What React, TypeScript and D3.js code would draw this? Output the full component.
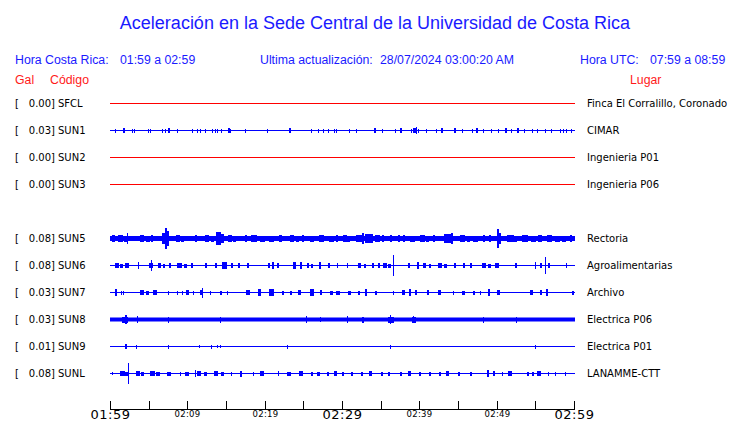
import React from "react";
import * as d3 from "d3";

const W = 740;
const H = 423;

const TITLE = "Aceleración en la Sede Central de la Universidad de Costa Rica";
const HDR_CR_LABEL = "Hora Costa Rica:";
const HDR_CR_RANGE = "01:59 a 02:59";
const HDR_UPD_LABEL = "Ultima actualización:";
const HDR_UPD_VALUE = "28/07/2024 03:00:20 AM";
const HDR_UTC_LABEL = "Hora UTC:";
const HDR_UTC_RANGE = "07:59 a 08:59";

const codes = ["SFCL", "SUN1", "SUN2", "SUN3", "SUN5", "SUN6", "SUN7", "SUN8", "SUN9", "SUNL"];
const slots = [0, 1, 2, 3, 5, 6, 7, 8, 9, 10];
const gals = [0.0, 0.03, 0.0, 0.0, 0.08, 0.08, 0.03, 0.03, 0.01, 0.08];
const places = [
  "Finca El Corralillo, Coronado",
  "CIMAR",
  "Ingenieria P01",
  "Ingenieria P06",
  "Rectoria",
  "Agroalimentarias",
  "Archivo",
  "Electrica P06",
  "Electrica P01",
  "LANAMME-CTT",
];
const online = [false, true, false, false, true, true, true, true, true, true];
const baseNoise = [0, 0, 0, 0, 2, 0, 0, 1.5, 0, 0];

// events: [minute after 01:59, half amplitude, duration in minutes]
type Ev = [number, number, number];
const evSUN1: Ev[] = [
  [0.65, 1.5, 0.1], [1.68, 2, 0.25], [2.84, 1.5, 0.1], [3.1, 1.5, 0.1], [4.91, 1.5, 0.1], [5.17, 1.5, 0.1],
  [6.72, 1.5, 0.1], [7.11, 1.5, 0.1], [7.5, 2, 0.3], [8.66, 1.5, 0.1], [10.6, 1.5, 0.1], [11.25, 1.5, 0.1],
  [11.64, 1.5, 0.1], [12.28, 1.5, 0.1], [13.19, 1.5, 0.1], [13.58, 1.5, 0.1], [13.84, 1.5, 0.1], [14.35, 1.5, 0.1],
  [15.26, 2, 0.2], [15.52, 1.5, 0.1], [17.46, 1.5, 0.1], [20.3, 1.5, 0.1], [23.14, 2, 0.2], [25.99, 1.5, 0.1],
  [26.89, 1.5, 0.1], [27.54, 1.5, 0.1], [28.19, 1.5, 0.1], [28.96, 1.5, 0.1], [29.22, 1.5, 0.1], [30.9, 1.5, 0.1],
  [31.81, 1.5, 0.1], [34.14, 2, 0.2], [35.17, 1.5, 0.1], [36.85, 1.5, 0.1], [37.5, 2, 0.2], [38.92, 1.5, 0.1],
  [39.18, 2, 0.4], [39.57, 3, 0.1], [39.83, 1.5, 0.1], [40.86, 1.5, 0.1], [42.15, 1.5, 0.1], [42.8, 2, 0.2],
  [44.48, 2, 0.2], [45.52, 1.5, 0.1], [46.81, 1.5, 0.1], [47.33, 2, 0.2], [48.23, 1.5, 0.1], [49.27, 1.5, 0.1],
  [50.17, 1.5, 0.1], [51.07, 2, 0.2], [51.85, 1.5, 0.1], [52.63, 2, 0.2], [53.53, 1.5, 0.1], [54.57, 1.5, 0.1],
  [55.21, 1.5, 0.1], [56.25, 1.5, 0.1], [57.02, 1.5, 0.1], [58.19, 1.5, 0.1], [58.58, 1.5, 0.1], [58.97, 1.5, 0.1],
  [59.61, 1.5, 0.1],
];
const evSUN5: Ev[] = [
  [0.3, 3, 0.4], [1.0, 3, 0.6], [1.8, 2.5, 0.5], [2.2, 5, 0.15], [3.9, 3, 0.5], [4.6, 2.5, 0.5], [5.3, 3, 0.3],
  [6.7, 5, 0.9], [7.1, 10, 0.2], [7.4, 7, 0.3], [8.5, 3, 0.5], [9.2, 2.5, 0.4], [11.0, 3, 0.3], [12.3, 3, 0.5],
  [13.0, 2.5, 0.4], [13.7, 6, 0.6], [14.0, 4, 0.8], [15.2, 3, 0.5], [15.9, 2.5, 0.4], [17.5, 3, 0.3], [18.2, 3, 0.8],
  [19.4, 2.5, 0.6], [20.5, 2.5, 0.6], [21.8, 3, 0.4], [23.3, 3, 0.5], [24.0, 2.5, 0.4], [24.8, 3, 0.2],
  [25.8, 2.5, 0.5], [27.0, 3, 0.6], [28.3, 2.5, 0.6], [29.2, 3, 0.3], [30.1, 3, 0.5], [30.7, 2.5, 0.4],
  [31.8, 3, 0.9], [32.6, 5, 0.2], [33.0, 4, 1.0], [34.3, 3, 0.6], [35.2, 3, 0.2], [36.2, 3, 0.2], [37.2, 3, 0.2],
  [37.9, 3, 0.2], [38.8, 2.5, 0.6], [40.1, 3, 0.6], [40.9, 2.5, 0.4], [41.8, 3, 0.3], [43.2, 4, 0.9], [44.1, 5, 0.2],
  [45.3, 3, 0.6], [46.1, 2.5, 0.4], [47.0, 2.5, 0.6], [48.2, 3, 0.2], [49.0, 3, 0.3], [50.0, 9, 0.2], [50.3, 5, 0.3],
  [51.4, 3, 0.9], [52.2, 2.5, 0.4], [53.3, 3, 0.8], [54.4, 2.5, 0.6], [55.3, 3, 0.5], [56.5, 3, 0.7],
  [57.6, 2.5, 0.6], [58.5, 2.5, 0.5], [59.5, 3, 0.2],
];
const evSUN6: Ev[] = [
  [0.6, 2, 0.5], [1.3, 1.5, 0.4], [2.0, 2, 0.5], [3.6, 3, 0.15], [5.1, 2, 0.5], [5.3, 5, 0.15], [6.2, 2, 0.4],
  [6.9, 1.5, 0.3], [7.6, 2, 0.3], [8.7, 2, 0.6], [9.6, 1.5, 0.4], [10.5, 2, 0.3], [12.3, 2, 0.3], [13.6, 2, 0.3],
  [14.5, 3, 0.6], [15.6, 2, 0.3], [16.5, 2, 0.3], [17.7, 2, 0.3], [20.4, 2, 0.3], [20.9, 3, 0.2], [21.6, 2, 0.3],
  [23.7, 3, 0.4], [24.6, 3, 0.3], [25.5, 2, 0.3], [26.0, 1.5, 0.2], [27.0, 3, 0.3], [28.2, 2, 0.3], [29.4, 2, 0.15],
  [30.6, 2, 0.15], [32.1, 2, 0.4], [32.8, 1.5, 0.3], [33.9, 2, 0.2], [34.6, 2, 0.2], [35.3, 2, 0.5], [36.0, 1.5, 0.4],
  [36.6, 10, 0.15], [38.5, 2, 0.3], [39.7, 3, 0.2], [40.5, 2, 0.4], [41.2, 1.5, 0.3], [42.4, 2, 0.5], [43.2, 1.5, 0.4],
  [44.5, 2, 0.2], [45.6, 2, 0.2], [46.5, 2, 0.2], [48.1, 2, 0.5], [48.9, 1.5, 0.4], [49.8, 2, 0.5], [52.4, 2, 0.3],
  [54.9, 3, 0.15], [55.6, 2, 0.3], [56.3, 8, 0.15], [56.6, 2, 0.3], [59.0, 2, 0.15],
];
const evSUN7: Ev[] = [
  [0.65, 3, 0.3], [1.4, 1.5, 0.1], [1.7, 1.5, 0.1], [3.9, 2, 0.5], [4.7, 1.5, 0.4], [5.5, 2, 0.5], [7.5, 1.5, 0.1],
  [8.7, 1.5, 0.1], [9.3, 1.5, 0.1], [9.8, 2, 0.4], [10.7, 1.5, 0.1], [11.7, 2, 0.4], [11.9, 4.5, 0.15],
  [12.9, 1.5, 0.1], [14.2, 1.5, 0.2], [15.1, 1.5, 0.1], [17.6, 2, 0.5], [19.2, 3, 0.4], [20.6, 3, 0.6],
  [22.2, 1.5, 0.2], [23.3, 1.5, 0.2], [24.3, 2, 0.4], [25.8, 3, 0.5], [27.1, 2, 0.3], [28.4, 1.5, 0.4],
  [29.2, 1.5, 0.5], [30.8, 1.5, 0.4], [32.1, 1.5, 0.2], [33.0, 3, 0.3], [34.3, 1.5, 0.2], [36.6, 1.5, 0.1],
  [37.8, 2, 0.4], [38.6, 3, 0.2], [39.4, 2, 0.2], [41.0, 2, 0.3], [42.4, 2, 0.4], [44.4, 1.5, 0.1], [45.5, 1.5, 0.4],
  [46.9, 1.5, 0.2], [47.8, 1.5, 0.1], [48.9, 3, 0.2], [50.0, 2, 0.4], [54.3, 2, 0.4], [55.6, 2, 0.2], [56.4, 3, 0.2],
  [59.8, 1.5, 0.2],
];
const evSUN8: Ev[] = [
  [1.6, 2.5, 0.8], [1.9, 4, 0.2], [3.5, 3, 0.15], [7.5, 2.5, 0.15], [14.2, 2.5, 0.15], [25.3, 3, 0.15],
  [27.1, 2, 0.15], [30.6, 3, 0.15], [32.6, 2.5, 0.3], [36.0, 2.5, 0.8], [36.2, 4, 0.15], [39.0, 2.5, 0.5],
  [39.2, 3, 0.15], [48.2, 2.5, 0.15], [52.5, 2.5, 0.15],
];
const evSUN9: Ev[] = [
  [1.9, 2, 0.3], [3.4, 1.5, 0.1], [7.5, 1.5, 0.1], [11.5, 1, 0.1], [13.1, 1.5, 0.1], [13.8, 1, 0.1], [14.2, 1, 0.1],
  [22.9, 1.5, 0.1], [36.2, 1.5, 0.1], [55.0, 1.5, 0.1],
];
const evSUNL: Ev[] = [
  [0.3, 1, 0.1], [1.3, 2, 0.6], [2.0, 1.5, 0.4], [2.3, 10, 0.15], [3.3, 2, 0.5], [4.0, 1.5, 0.4], [5.2, 2, 0.6],
  [6.0, 1.5, 0.5], [7.4, 1.5, 0.5], [9.0, 1.5, 0.1], [9.7, 1.5, 0.5], [11.0, 3, 0.15], [11.3, 2, 0.5],
  [12.1, 1.5, 0.4], [13.5, 2, 0.5], [14.3, 1.5, 0.4], [15.6, 1.5, 0.1], [16.8, 2.5, 0.2], [18.5, 1.5, 0.1],
  [19.4, 2, 0.5], [21.7, 2, 0.15], [22.9, 1.5, 0.5], [24.5, 2, 0.5], [26.0, 1.5, 0.3], [26.8, 1.5, 0.4],
  [28.0, 1.5, 0.2], [29.0, 2, 0.4], [30.0, 1.5, 0.3], [31.2, 1.5, 0.3], [32.5, 1.5, 0.2], [33.5, 2, 0.4],
  [35.0, 1.5, 0.3], [36.0, 1.5, 0.3], [37.5, 1.5, 0.2], [38.5, 2, 0.4], [40.0, 1.5, 0.3], [41.2, 1.5, 0.3],
  [42.5, 1.5, 0.2], [43.5, 2, 0.4], [45.0, 1.5, 0.3], [46.5, 1.5, 0.3], [48.7, 3, 0.3], [49.5, 2, 0.2],
  [50.7, 1.5, 0.1], [51.5, 2, 0.5], [53.9, 1.5, 0.2], [54.6, 1.5, 0.2], [55.2, 2, 0.5], [56.6, 1.5, 0.1],
  [57.5, 1.5, 0.1], [58.8, 1.5, 0.1],
];
const events: Ev[][] = [[], evSUN1, [], [], evSUN5, evSUN6, evSUN7, evSUN8, evSUN9, evSUNL];

const START = new Date(2024, 6, 28, 1, 59);
const SPAN_MIN = 60;
const TICK_STEP = 5;
const LABEL_STEP = 10;
const BIG_LABEL_EVERY = 30;

const BLUE = "#1a1aff";
const RED = "#ff1a1a";
const TRACE_BLUE = "#0000ff";
const TRACE_RED = "#ff0000";

export default function App() {
  const x0 = 110;
  const x1 = 574;
  const xMin = d3.scaleLinear().domain([0, SPAN_MIN]).range([x0, x1]);
  const xTime = d3.scaleTime().domain([START, d3.timeMinute.offset(START, SPAN_MIN)]).range([x0, x1]);
  const yRow = d3.scaleLinear().domain([0, 10]).range([103, 373]);
  const amp = d3.scaleLinear().domain([-13.5, 13.5]).range([13.5, -13.5]);
  const fmt = d3.timeFormat("%H:%M");
  const ticks = d3.range(0, SPAN_MIN + 1, TICK_STEP).map((m) => d3.timeMinute.offset(START, m));
  const axisY = 409;
  const labelFont = "DejaVu Sans, sans-serif";
  const hdrFont = "Liberation Sans, Arial, sans-serif";

  return (
    <svg width={W} height={H} style={{ position: "fixed", left: 0, top: 0, background: "#fff" }}>
      <rect width={W} height={H} fill="#fff" />
      <text x={375} y={29} textAnchor="middle" fontFamily={hdrFont} fontSize={18} fill={BLUE}>
        {TITLE}
      </text>
      <g fontFamily={hdrFont} fontSize={12.3} fill={BLUE}>
        <text x={15} y={64}>{HDR_CR_LABEL}</text>
        <text x={120} y={64}>{HDR_CR_RANGE}</text>
        <text x={260} y={64}>{HDR_UPD_LABEL}</text>
        <text x={380} y={64}>{HDR_UPD_VALUE}</text>
        <text x={580} y={64}>{HDR_UTC_LABEL}</text>
        <text x={650} y={64}>{HDR_UTC_RANGE}</text>
      </g>
      <g fontFamily={hdrFont} fontSize={12.3} fill={RED}>
        <text x={15} y={84}>Gal</text>
        <text x={50} y={84}>Código</text>
        <text x={630} y={84}>Lugar</text>
      </g>
      {codes.map((c, i) => {
        const y = yRow(slots[i]);
        const col = online[i] ? TRACE_BLUE : TRACE_RED;
        return (
          <g key={c}>
            <g fontFamily={labelFont} fontSize={10} fill="#000">
              <text x={15} y={y + 4}>[</text>
              <text x={55} y={y + 4} textAnchor="end">{gals[i].toFixed(2) + "]"}</text>
              <text x={58} y={y + 4}>{c}</text>
              <text x={587} y={y + 4}>{places[i]}</text>
            </g>
            <line x1={x0} x2={x1 + 1} y1={y + 0.5} y2={y + 0.5} stroke={col} strokeWidth={1} />
            {baseNoise[i] > 0 && (
              <rect x={x0} width={x1 + 1 - x0} y={y - baseNoise[i]} height={2 * baseNoise[i] + 1} fill={col} />
            )}
            {events[i].map((e, k) => {
              const xa = xMin(e[0]);
              const w = Math.max(1, xMin(e[0] + e[2]) - xa);
              return (
                <rect
                  key={k}
                  x={Math.round(xa)}
                  width={Math.round(w)}
                  y={Math.round(y + amp(e[1]))}
                  height={Math.round(2 * e[1]) + 1}
                  fill={col}
                />
              );
            })}
          </g>
        );
      })}
      <g>
        <line x1={x0} x2={x1 + 1} y1={axisY + 0.5} y2={axisY + 0.5} stroke="#000" />
        {ticks.map((t, k) => {
          const xx = Math.round(xTime(t)) + 0.5;
          const m = k * TICK_STEP;
          const isLabel = m % LABEL_STEP === 0 || m % BIG_LABEL_EVERY === 0;
          const big = m % BIG_LABEL_EVERY === 0;
          return (
            <g key={k}>
              <line x1={xx} x2={xx} y1={axisY - 8} y2={axisY} stroke="#000" />
              {isLabel && (
                <text
                  x={xx}
                  y={big ? 419 : 417}
                  textAnchor="middle"
                  fontFamily={labelFont}
                  fontSize={big ? 13 : 8.5}
                  fill="#000"
                  letterSpacing={big ? 0.5 : 0.3}
                >
                  {fmt(t)}
                </text>
              )}
            </g>
          );
        })}
      </g>
    </svg>
  );
}
